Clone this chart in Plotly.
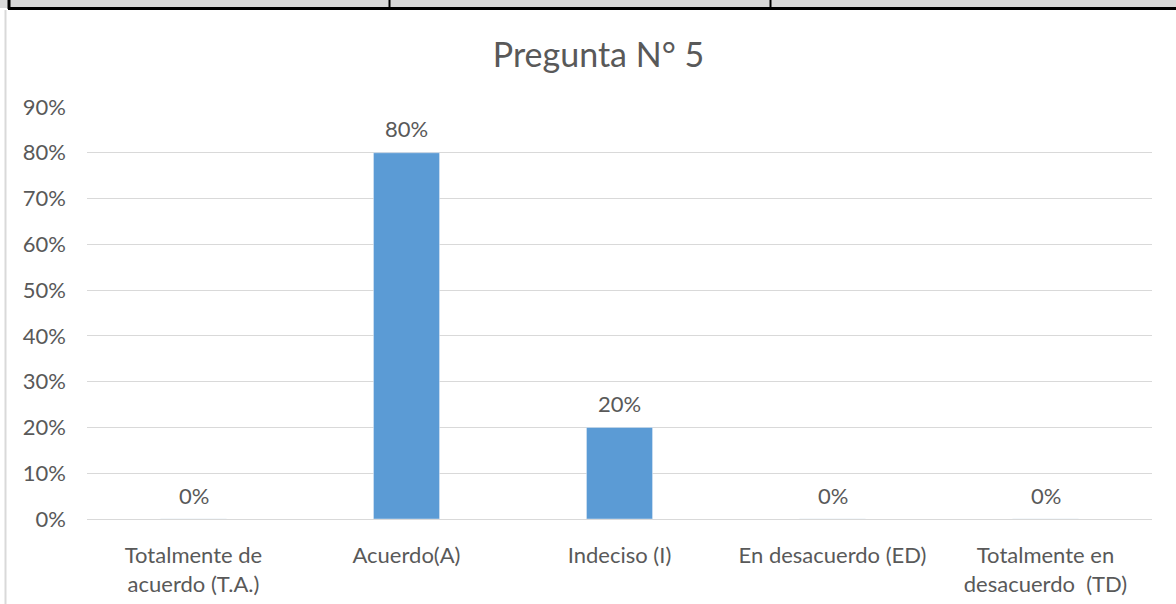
import plotly.graph_objects as go

categories = ["Totalmente de<br>acuerdo (T.A.)", "Acuerdo(A)", "Indeciso (I)",
              "En desacuerdo (ED)", "Totalmente en<br>desacuerdo&nbsp;&nbsp;(TD)"]
values = [0.0, 0.80, 0.20, 0.0, 0.0]
labels = ["0%", "80%", "20%", "0%", "0%"]
title_text = "Pregunta N° 5"

W, H = 1176, 604
L, R, T, B = 87, 24, 107, 85
pw, ph = W - L - R, H - T - B

def px_x(px):
    return (px - L) / pw

def px_y(py):
    return (H - B - py) / ph

FONT = "Lato, Open Sans, sans-serif"
GRAY = "#595959"
FS = 22

fig = go.Figure(go.Bar(x=categories, y=values, marker_color="#5B9BD5",
                       width=0.31, hoverinfo="skip"))

for c, v, t in zip(categories, values, labels):
    fig.add_annotation(x=c, y=v, text=t, showarrow=False, yshift=24,
                       font=dict(size=FS, color=GRAY, family=FONT))

shapes = [
    dict(type="rect", xref="paper", yref="paper", x0=px_x(0), x1=px_x(W),
         y0=px_y(0), y1=px_y(8), fillcolor="#d9d9d9", line=dict(width=0),
         layer="above"),
    dict(type="line", xref="paper", yref="paper", x0=px_x(8), x1=px_x(W),
         y0=px_y(8.5), y1=px_y(8.5), line=dict(color="black", width=3)),
    dict(type="line", xref="paper", yref="paper", x0=px_x(9), x1=px_x(9),
         y0=px_y(0), y1=px_y(9), line=dict(color="black", width=3)),
    dict(type="line", xref="paper", yref="paper", x0=px_x(389.5), x1=px_x(389.5),
         y0=px_y(0), y1=px_y(9), line=dict(color="black", width=2)),
    dict(type="line", xref="paper", yref="paper", x0=px_x(770.5), x1=px_x(770.5),
         y0=px_y(0), y1=px_y(9), line=dict(color="black", width=2)),
    dict(type="line", xref="paper", yref="paper", x0=px_x(5.5), x1=px_x(5.5),
         y0=px_y(10), y1=px_y(H), line=dict(color="#d9d9d9", width=2)),
]

fig.update_layout(
    width=W, height=H,
    margin=dict(l=L, r=R, t=T, b=B),
    paper_bgcolor="white", plot_bgcolor="white",
    font=dict(family=FONT, color=GRAY, size=FS),
    title=dict(text=title_text, x=598.5 / W, xref="container", xanchor="center",
               y=1 - 55 / H, yref="container", yanchor="middle",
               font=dict(size=34, color=GRAY, family=FONT)),
    showlegend=False,
    bargap=0.69,
    shapes=shapes,
    xaxis=dict(showgrid=False, showline=False, ticks="", ticklabelstandoff=21,
               automargin=False, tickfont=dict(size=FS, color=GRAY)),
    yaxis=dict(range=[0, 0.9], dtick=0.1, tickformat=".0%", showgrid=True,
               gridcolor="#d9d9d9", gridwidth=1, zeroline=True, zerolinecolor="#d9d9d9",
               zerolinewidth=1, showline=False, ticks="", ticklabelstandoff=20,
               automargin=False, tickfont=dict(size=FS, color=GRAY)),
)

fig.write_html("out.html", config={"displayModeBar": False},
               post_script="document.body.style.margin='0';document.body.style.overflow='hidden';")
